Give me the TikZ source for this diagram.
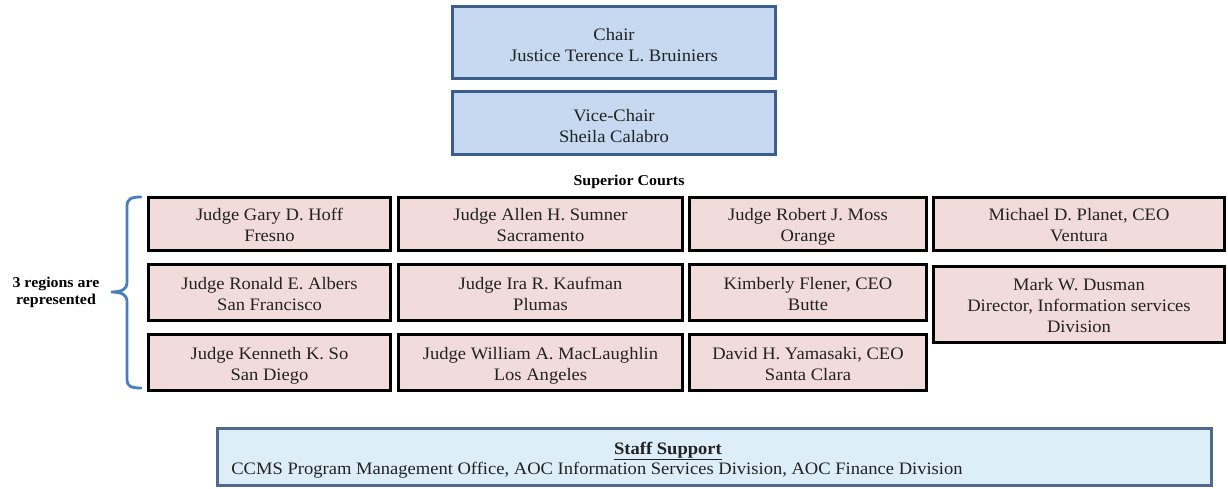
\documentclass[tikz,border=0pt]{standalone}
\usepackage{fontspec}
\setmainfont{LiberationSerif}[Extension=.ttf, UprightFont=*-Regular, BoldFont=*-Bold, ItalicFont=*-Italic, BoldItalicFont=*-BoldItalic, FakeStretch=1.06]
\definecolor{bluefill}{HTML}{C6D9F1}
\definecolor{blueline}{HTML}{3B5E8C}
\definecolor{pinkfill}{HTML}{F2DCDB}
\definecolor{stafffill}{HTML}{DDEEF9}
\definecolor{stafline}{HTML}{4F6A8C}
\definecolor{bracecol}{HTML}{4A7EBB}
\definecolor{txt}{HTML}{222222}
\newcommand{\tsA}{\rule{0pt}{24pt}}
\newcommand{\tsB}{\rule{0pt}{20.7pt}}
\newcommand{\bs}{\rule[-6.3pt]{0pt}{6.3pt}}
\begin{document}
\begin{tikzpicture}[x=1pt,y=-1pt,
  boxfont/.style={font=\fontsize{17.5}{21}\selectfont},
  bluebox/.style={draw=blueline, fill=bluefill, line width=3.5pt, inner sep=0pt, align=center, boxfont, text=txt},
  pinkbox/.style={draw=black, fill=pinkfill, line width=2.8pt, inner sep=0pt, align=center, boxfont, text=txt},
  staffbox/.style={draw=stafline, fill=stafffill, line width=2.5pt, inner sep=0pt},
  boldlabel/.style={font=\bfseries\fontsize{15}{17}\selectfont, align=center, inner sep=0pt}]
\useasboundingbox (0,0) rectangle (1228,489);
% top
\node[bluebox, minimum width=323pt, minimum height=72pt] (chair) at (614,42.5) {\tsA Chair\\Justice Terence L. Bruiniers\bs};
\node[bluebox, minimum width=323pt, minimum height=63pt] (vice) at (614,123) {\tsA Vice-Chair\\Sheila Calabro\bs};
\node[boldlabel] (sup) at (629,182) {Superior Courts};
% row 1
\node[pinkbox, minimum width=242pt, minimum height=53pt] (r1c1) at (269.5,224) {\tsB Judge Gary D. Hoff\\Fresno\bs};
\node[pinkbox, minimum width=284pt, minimum height=53pt] (r1c2) at (540.5,224) {\tsB Judge Allen H. Sumner\\Sacramento\bs};
\node[pinkbox, minimum width=237pt, minimum height=53pt] (r1c3) at (808,224) {\tsB Judge Robert J. Moss\\Orange\bs};
\node[pinkbox, minimum width=291pt, minimum height=53pt] (r1c4) at (1079,224) {\tsB Michael D. Planet, CEO\\Ventura\bs};
% row 2
\node[pinkbox, minimum width=242pt, minimum height=56pt] (r2c1) at (269.5,292.5) {\tsB Judge Ronald E. Albers\\San Francisco\bs};
\node[pinkbox, minimum width=284pt, minimum height=56pt] (r2c2) at (540.5,292.5) {\tsB Judge Ira R. Kaufman\\Plumas\bs};
\node[pinkbox, minimum width=237pt, minimum height=56pt] (r2c3) at (808,292.5) {\tsB Kimberly Flener, CEO\\Butte\bs};
\node[pinkbox, minimum width=291pt, minimum height=76pt] (r2c4) at (1079,304.5) {\tsB Mark W. Dusman\\Director, Information services\\Division\bs};
% row 3
\node[pinkbox, minimum width=242pt, minimum height=56pt] (r3c1) at (269.5,362.5) {\tsB Judge Kenneth K. So\\San Diego\bs};
\node[pinkbox, minimum width=284pt, minimum height=56pt] (r3c2) at (540.5,362.5) {\tsB Judge William A. MacLaughlin\\Los Angeles\bs};
\node[pinkbox, minimum width=237pt, minimum height=56pt] (r3c3) at (808,362.5) {\tsB David H. Yamasaki, CEO\\Santa Clara\bs};
% brace and label
\draw[bracecol, line width=2.8pt, line cap=round]
  (141,197) .. controls (131,197) and (127,199) .. (127,206)
  -- (127,283) .. controls (127,289) and (122,292) .. (111,292)
  .. controls (122,292) and (127,295) .. (127,301)
  -- (127,380) .. controls (127,386) and (131,388) .. (141,388);
\node[boldlabel] (reg) at (56,292) {3 regions are\\represented};
% staff support
\node[staffbox, minimum width=994pt, minimum height=57pt] (staff) at (714.5,457) {};
\node[font=\bfseries\fontsize{17.5}{21}\selectfont, inner sep=0pt, text=txt] (stafftitle) at (668,451) {\underline{Staff Support}};
\node[boxfont, inner sep=0pt, text=txt] (stafftext) at (597,470) {CCMS Program Management Office, AOC Information Services Division, AOC Finance Division};
\end{tikzpicture}
\end{document}
